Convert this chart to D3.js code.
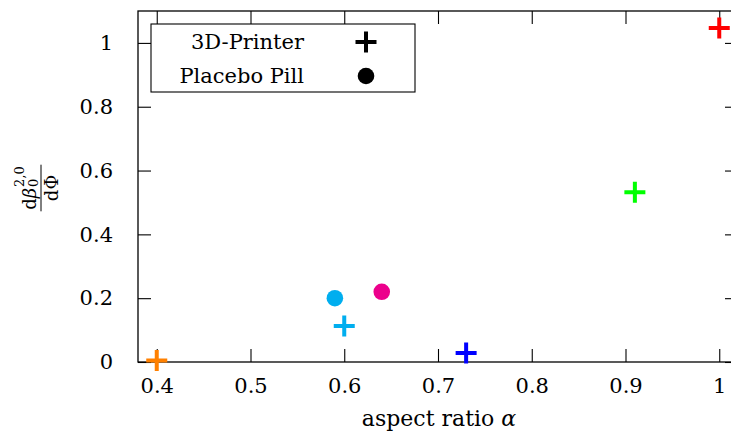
<!DOCTYPE html>
<html>
<head>
<meta charset="utf-8">
<script src="https://cdn.jsdelivr.net/npm/d3@7"></script>
<style>
  html, body { margin: 0; padding: 0; background: #fff; }
  svg { display: block; }
  text { font-family: "DejaVu Serif", "Liberation Serif", serif; fill: #000; }
</style>
</head>
<body>
<svg id="chart" width="731" height="436"></svg>
<script>
// Measurements: aspect ratio vs. normalised derivative
const printerAlpha = [0.40, 0.60, 0.73, 0.91, 1.00];
const printerValue = [0.005, 0.113, 0.028, 0.532, 1.047];
const printerColor = ["#ff8000", "#00aeef", "#0000ff", "#00ff00", "#ff0000"];

const pillAlpha = [0.59, 0.64];
const pillValue = [0.200, 0.220];
const pillColor = ["#00aeef", "#ec008c"];

const xTicks = [0.4, 0.5, 0.6, 0.7, 0.8, 0.9, 1];
const yTicks = [0, 0.2, 0.4, 0.6, 0.8, 1];
const legendLabels = ["3D-Printer", "Placebo Pill"];

const plotL = 138, plotR = 738, plotT = 11, plotB = 362;
const fontSize = 21;

const svg = d3.select("#chart");
const x = d3.scaleLinear().domain([0.38, 1.02]).range([plotL, plotR]);
const y = d3.scaleLinear().domain([0, 1.1]).range([plotB, plotT]);

const fmt = d => String(d);
const tickLen = 13;

// Frame
svg.append("rect")
  .attr("x", plotL).attr("y", plotT)
  .attr("width", plotR - plotL).attr("height", plotB - plotT)
  .attr("fill", "none").attr("stroke", "#000").attr("stroke-width", 1.3);

// Axes with inward ticks on all four sides
const axB = svg.append("g").attr("transform", `translate(0,${plotB})`)
  .call(d3.axisBottom(x).tickValues(xTicks).tickSize(-tickLen).tickPadding(16).tickFormat(fmt));
const axT = svg.append("g").attr("transform", `translate(0,${plotT})`)
  .call(d3.axisTop(x).tickValues(xTicks).tickSize(-tickLen).tickFormat(""));
const axL = svg.append("g").attr("transform", `translate(${plotL},0)`)
  .call(d3.axisLeft(y).tickValues(yTicks).tickSize(-tickLen).tickPadding(25).tickFormat(fmt));
const axR = svg.append("g").attr("transform", `translate(${plotR},0)`)
  .call(d3.axisRight(y).tickValues(yTicks).tickSize(-tickLen).tickFormat(""));

[axB, axT, axL, axR].forEach(g => {
  g.select(".domain").remove();
  g.selectAll(".tick line").attr("stroke", "#000").attr("stroke-width", 1.1);
  g.selectAll(".tick text").attr("font-size", fontSize).attr("fill", "#000");
});

// Axis title (x)
const xt = svg.append("text")
  .attr("x", 439).attr("y", 426)
  .attr("text-anchor", "middle").attr("font-size", 22);
xt.append("tspan").text("aspect ratio ");
xt.append("tspan").attr("font-style", "italic").text("α");

// Axis title (y): fraction d beta_0^{2,0} / d Phi, rotated
const yl = svg.append("g").attr("transform", "translate(41,188) rotate(-90)");
const fs = 18, ss = 13;
const numMain = yl.append("text").attr("font-size", fs).attr("y", -5);
numMain.append("tspan").text("d");
numMain.append("tspan").attr("font-style", "italic").text("β");
const sup = yl.append("text").attr("font-size", ss).attr("y", -17).text("2,0");
const sub = yl.append("text").attr("font-size", ss).attr("y", -3).text("0");
const mainW = numMain.node().getComputedTextLength();
const scriptW = Math.max(sup.node().getComputedTextLength(), sub.node().getComputedTextLength());
const numW = mainW + 1 + scriptW;
numMain.attr("x", -numW / 2);
sup.attr("x", -numW / 2 + mainW + 1);
sub.attr("x", -numW / 2 + mainW + 1);
const den = yl.append("text").attr("font-size", fs).attr("y", 17).attr("text-anchor", "middle");
den.append("tspan").text("dΦ");
const barW = Math.max(numW, den.node().getComputedTextLength()) + 3;
yl.append("line").attr("x1", -barW / 2).attr("x2", barW / 2).attr("y1", 0).attr("y2", 0)
  .attr("stroke", "#000").attr("stroke-width", 1);

// Marker shapes
const plusPath = r => `M${-r},0H${r}M0,${-r}V${r}`;
const plusR = 10.5, dotR = 8.3;

// Data marks
svg.append("g").selectAll("path")
  .data(printerAlpha.map((a, i) => ({ a, v: printerValue[i], c: printerColor[i] })))
  .join("path")
  .attr("transform", d => `translate(${x(d.a)},${y(d.v)})`)
  .attr("d", plusPath(plusR))
  .attr("fill", "none").attr("stroke", d => d.c).attr("stroke-width", 4);

svg.append("g").selectAll("circle")
  .data(pillAlpha.map((a, i) => ({ a, v: pillValue[i], c: pillColor[i] })))
  .join("circle")
  .attr("cx", d => x(d.a)).attr("cy", d => y(d.v)).attr("r", dotR)
  .attr("fill", d => d.c);

// Legend
const lg = svg.append("g");
lg.append("rect").attr("x", 151).attr("y", 24).attr("width", 264).attr("height", 68)
  .attr("fill", "#fff").attr("stroke", "#000").attr("stroke-width", 1.1);
legendLabels.forEach((t, i) => {
  const yy = 42 + i * 34;
  lg.append("text").attr("x", 304).attr("y", yy + 7).attr("text-anchor", "end")
    .attr("font-size", fontSize).text(t);
  if (i === 0) {
    lg.append("path").attr("transform", `translate(366,${yy})`).attr("d", plusPath(plusR))
      .attr("fill", "none").attr("stroke", "#000").attr("stroke-width", 4);
  } else {
    lg.append("circle").attr("cx", 366).attr("cy", yy).attr("r", dotR).attr("fill", "#000");
  }
});
</script>
</body>
</html>
